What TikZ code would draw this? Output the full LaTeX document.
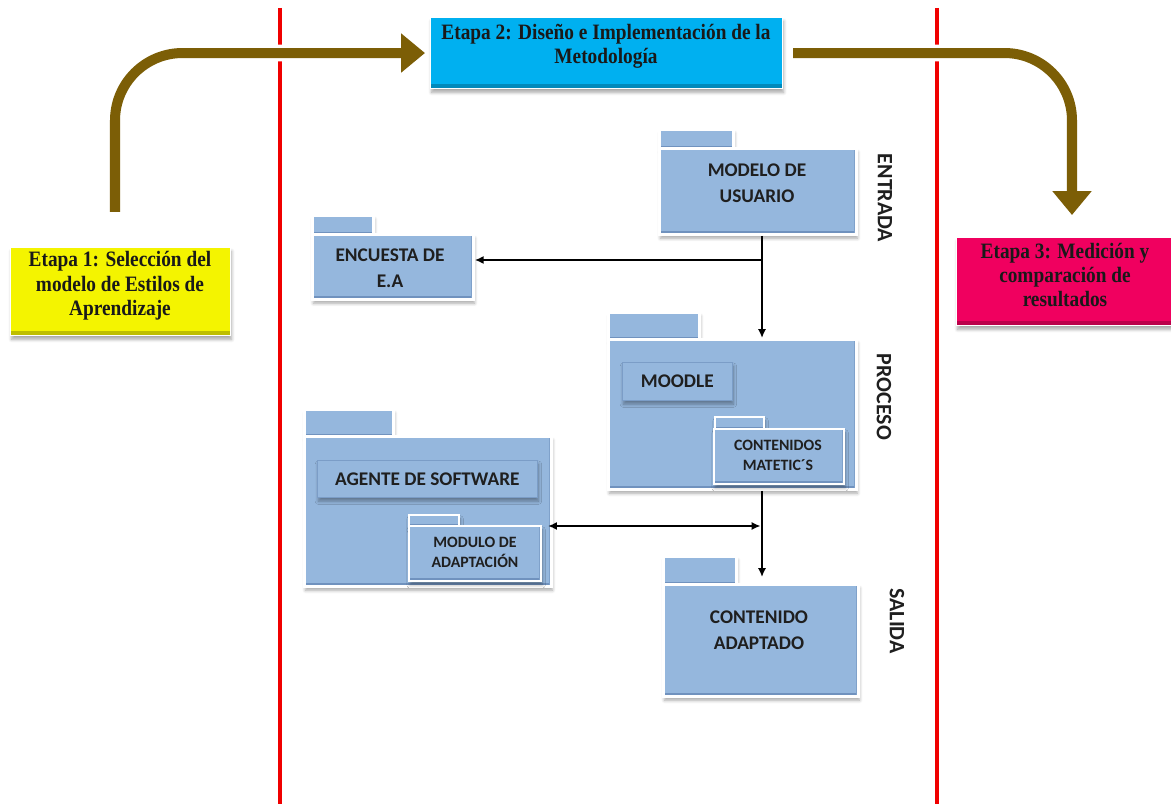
\documentclass[tikz,border=0pt]{standalone}
\usepackage{fontspec}
\setmainfont{Liberation Serif}
\newfontfamily\stagefont{Liberation Serif}[FakeStretch=0.88]
\newfontfamily\boxfont{Carlito}
\usetikzlibrary{arrows.meta,shadows,shadows.blur,calc}

\definecolor{pkgblue}{RGB}{149,183,221}
\definecolor{pkgedge}{RGB}{112,146,190}
\definecolor{stageyellow}{RGB}{244,244,0}
\definecolor{stagecyan}{RGB}{0,176,240}
\definecolor{stagepink}{RGB}{240,0,95}
\definecolor{arrowbrown}{RGB}{124,94,6}
\definecolor{divred}{RGB}{240,0,0}

\tikzset{
  softshadow/.style={blur shadow={shadow xshift=0.6pt, shadow yshift=-2.2pt,
      shadow blur steps=6, shadow opacity=35}},
  stagebox/.style={fill=#1, draw=white, line width=0.6pt, inner sep=0pt,
      softshadow, anchor=north west,
      path picture={\fill[#1!78!black]
        (path picture bounding box.south west) rectangle
        ([yshift=0.1cm]path picture bounding box.south east);}},
  stagetext/.style={align=center, inner sep=0pt, text=black!90,
      font=\stagefont\bfseries\fontsize{12.5}{13.9}\selectfont},
  pkgtab/.style={fill=pkgblue, draw=white, line width=1.6pt, inner sep=0pt,
      softshadow, anchor=north west,
      path picture={\fill[pkgedge]
        (path picture bounding box.south west) rectangle
        ([yshift=0.05cm]path picture bounding box.south east);}},
  pkgbody/.style={fill=pkgblue, draw=white, line width=1.6pt, inner sep=0pt,
      softshadow, anchor=north west,
      path picture={\fill[pkgedge]
        (path picture bounding box.south west) rectangle
        ([yshift=0.07cm]path picture bounding box.south east);
        \fill[pkgedge!60!pkgblue]
        ([xshift=-0.05cm]path picture bounding box.north east) rectangle
        (path picture bounding box.south east);}},
  pkgtext/.style={align=center, inner sep=0pt, text=black!88,
      font=\boxfont\bfseries\fontsize{11}{15}\selectfont},
  smalltext/.style={pkgtext, font=\boxfont\bfseries\fontsize{9}{11.5}\selectfont},
  innerbox/.style={fill=pkgblue, draw=pkgedge!70!pkgblue, line width=0.4pt,
      inner sep=0pt, softshadow, anchor=north west, text=black!88,
      font=\boxfont\bfseries\fontsize{11}{13}\selectfont},
  phase/.style={rotate=-90, inner sep=0pt, text=black!88,
      font=\boxfont\bfseries\fontsize{12.5}{14}\selectfont},
  divline/.style={draw=divred, line width=2.1pt},
  stagearrow/.style={draw=arrowbrown, line width=5.7pt, rounded corners=1.35cm,
      -{Triangle[width=21.5pt,length=13.6pt]},
      preaction={draw=white, line width=9.5pt,
        -{Triangle[width=28pt,length=17pt]}}},
  conn/.style={draw=black, line width=1.1pt,
      -{Latex[length=5pt,width=4.6pt]}},
}

\begin{document}
\begin{tikzpicture}[x=0.02cm, y=-0.02cm]
\useasboundingbox (0,0) rectangle (1171,804);

% dividing lines between the three stages
\draw[divline] (280,8) -- (280,804);
\draw[divline] (937,8) -- (937,804);

% stage boxes
\node[stagebox=stageyellow, minimum width=220*0.02cm, minimum height=88*0.02cm]
  (e1) at (10,247) {};
\node[stagetext] (e1t) at (120,286)
  {Etapa 1: Selección del\\modelo de Estilos de\\Aprendizaje};
\node[stagebox=stagecyan, minimum width=352*0.02cm, minimum height=71*0.02cm]
  (e2) at (430,17) {};
\node[stagetext] (e2t) at (606,46)
  {Etapa 2: Diseño e Implementación de la\\Metodología};
\node[stagebox=stagepink, minimum width=218*0.02cm, minimum height=88*0.02cm]
  (e3) at (956,237) {};
\node[stagetext] (e3t) at (1065,275)
  {Etapa 3: Medición y\\comparación de\\resultados};

% thick arrows linking the stages
\coordinate (a1s) at (115,212);
\coordinate (a2e) at (1072,215);
\draw[stagearrow] (a1s) |- ([xshift=-0.1cm]e2.west);
\draw[stagearrow] ([xshift=0.2cm]e2.east) -| (a2e);

% ENTRADA
\node[pkgtab, minimum width=74*0.02cm, minimum height=19*0.02cm] (mut) at (658,128) {};
\node[pkgbody, minimum width=197*0.02cm, minimum height=86*0.02cm] (mu) at (658,147) {};
\node[pkgtext] (mutx) at (757,183) {MODELO DE\\USUARIO};
\node[pkgtab, minimum width=61*0.02cm, minimum height=19*0.02cm] (enct) at (311,214) {};
\node[pkgbody, minimum width=161*0.02cm, minimum height=65*0.02cm] (enc) at (311,233) {};
\node[pkgtext] (enctx) at (390,268) {ENCUESTA DE\\E.A};

% PROCESO
\node[pkgtab, minimum width=91*0.02cm, minimum height=27*0.02cm] (pbt) at (607,311) {};
\node[pkgbody, minimum width=248*0.02cm, minimum height=150*0.02cm] (pb) at (607,338) {};
\node[innerbox, minimum width=110*0.02cm, minimum height=38*0.02cm] (mdl) at (622,362)
  {MOODLE};
\node[pkgtab, line width=1.2pt, minimum width=49*0.02cm, minimum height=12*0.02cm]
  (cmt) at (714,416) {};
\node[pkgbody, line width=1.2pt, minimum width=130*0.02cm, minimum height=55*0.02cm]
  (cm) at (713,428) {};
\node[smalltext] (cmtx) at (778,455) {CONTENIDOS\\MATETIC´S};

% software agent
\node[pkgtab, minimum width=89*0.02cm, minimum height=27*0.02cm] (agt) at (303,408) {};
\node[pkgbody, minimum width=247*0.02cm, minimum height=150*0.02cm] (ag) at (303,435) {};
\node[innerbox, minimum width=220*0.02cm, minimum height=37*0.02cm] (agb) at (317,460)
  {AGENTE DE SOFTWARE};
\node[pkgtab, line width=1.2pt, minimum width=50*0.02cm, minimum height=11*0.02cm]
  (mot) at (408,514) {};
\node[pkgbody, line width=1.2pt, minimum width=132*0.02cm, minimum height=55*0.02cm]
  (mo) at (408,525) {};
\node[smalltext] (motx) at (475,552) {MODULO DE\\ADAPTACIÓN};

% SALIDA
\node[pkgtab, minimum width=73*0.02cm, minimum height=28*0.02cm] (cat) at (662,555) {};
\node[pkgbody, minimum width=195*0.02cm, minimum height=112*0.02cm] (ca) at (662,583) {};
\node[pkgtext] (catx) at (759,630) {CONTENIDO\\ADAPTADO};

% phase labels
\node[phase] (lin) at (885,198) {ENTRADA};
\node[phase] (lpr) at (884,397) {PROCESO};
\node[phase] (lsa) at (897,621) {SALIDA};

% flow connectors
\coordinate (j1) at (762,260);
\coordinate (j2) at (762,526);
\draw[line width=1.1pt] (mu.south -| j1) -- (j1);
\draw[conn] (j1) -- (enc.east |- j1);
\draw[conn] (j1) -- (pb.north -| j1);
\draw[conn] (pb.south -| j1) -- ([yshift=0.12cm]ca.north -| j1);
\draw[conn, {Latex[length=5pt,width=4.6pt]}-{Latex[length=5pt,width=4.6pt]},
      shorten <=0.12cm, shorten >=0.03cm] (mo.east |- j2) -- (j2);
\end{tikzpicture}
\end{document}
